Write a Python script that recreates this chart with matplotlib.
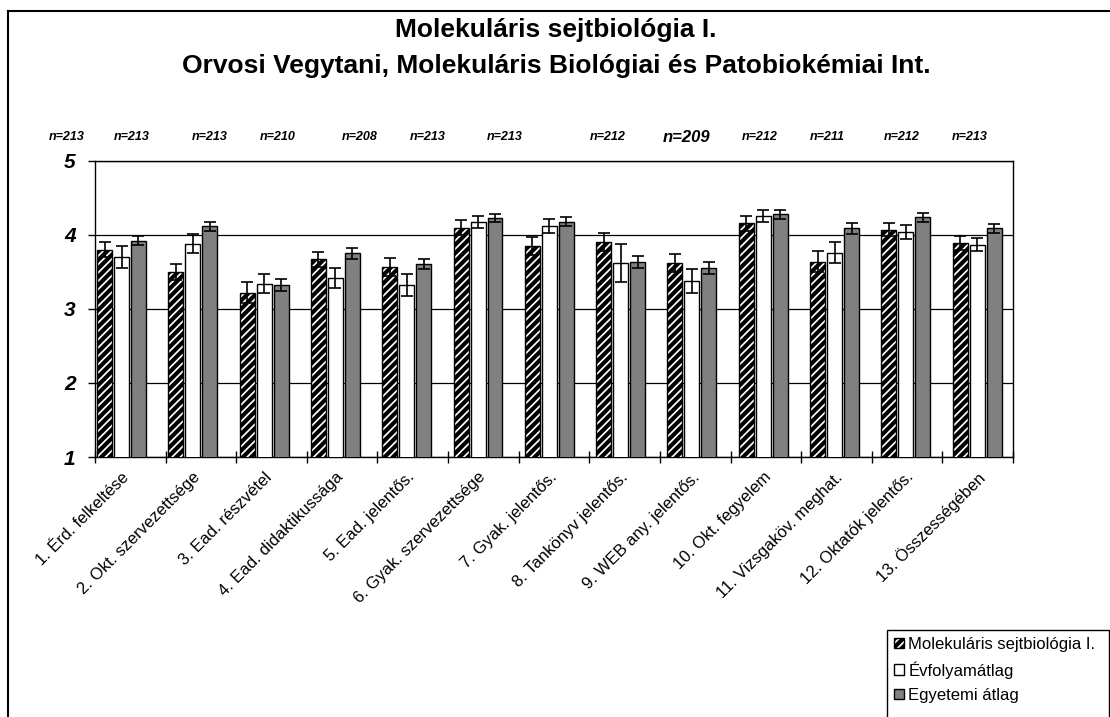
import numpy as np
import matplotlib
matplotlib.use("Agg")
import matplotlib.pyplot as plt
from matplotlib.lines import Line2D
from matplotlib.patches import Patch, Rectangle

plt.rcParams['font.family'] = ['Liberation Sans', 'DejaVu Sans']
plt.rcParams['hatch.linewidth'] = 3.0

# Data
categories = ['1. Érd. felkeltése', '2. Okt. szervezettsége', '3. Ead. részvétel',
              '4. Ead. didaktikussága', '5. Ead. jelentős.', '6. Gyak. szervezettsége',
              '7. Gyak. jelentős.', '8. Tankönyv jelentős.', '9. WEB any. jelentős.',
              '10. Okt. fegyelem', '11. Vizsgaköv. meghat.', '12. Oktatók jelentős.',
              '13. Összességében']
n_values = [213, 213, 213, 210, 208, 213, 213, 212, 209, 212, 211, 212, 213]

mol = [3.80, 3.50, 3.22, 3.67, 3.57, 4.10, 3.85, 3.91, 3.62, 4.16, 3.64, 4.07, 3.89]
mol_err = [0.10, 0.11, 0.14, 0.10, 0.12, 0.10, 0.12, 0.12, 0.12, 0.10, 0.14, 0.09, 0.09]
evf = [3.70, 3.88, 3.34, 3.42, 3.32, 4.18, 4.12, 3.62, 3.38, 4.26, 3.76, 4.04, 3.87]
evf_err = [0.15, 0.13, 0.13, 0.14, 0.15, 0.08, 0.09, 0.26, 0.16, 0.08, 0.14, 0.10, 0.09]
egy = [3.92, 4.12, 3.32, 3.75, 3.61, 4.23, 4.18, 3.64, 3.55, 4.28, 4.09, 4.24, 4.09]
egy_err = [0.06, 0.06, 0.08, 0.07, 0.07, 0.06, 0.06, 0.08, 0.08, 0.06, 0.07, 0.06, 0.06]

series_names = ['Molekuláris sejtbiológia I.', 'Évfolyamátlag', 'Egyetemi átlag']

# layout (pixels) for the n= labels
n_label_x = [67, 132, 210, 278, 360, 428, 505, 608, 687, 760, 827, 902, 970]

W, H = 1110, 717
fig = plt.figure(figsize=(W / 100, H / 100), dpi=100)
ax_l, ax_r, ax_t, ax_b = 95, 1013, 161, 457
ax = fig.add_axes([ax_l / W, 1 - ax_b / H, (ax_r - ax_l) / W, (ax_b - ax_t) / H])

x = np.arange(len(categories))
step = 0.238
bw = 0.21
ek = dict(ecolor='black', elinewidth=1.2, capsize=4, capthick=1.2)
ax.bar(x - step, mol, bw, yerr=mol_err, color='white', edgecolor='black',
       hatch='////', linewidth=1.0, error_kw=ek, zorder=3)
ax.bar(x, evf, bw, yerr=evf_err, color='white', edgecolor='black',
       linewidth=1.0, error_kw=ek, zorder=3)
ax.bar(x + step, egy, bw, yerr=egy_err, color='#808080', edgecolor='black',
       linewidth=1.0, error_kw=ek, zorder=3)

left = -0.372
span = 12.875
ax.set_xlim(left, left + span)
ax.set_ylim(1, 5)

# category boundary ticks
ax.set_xticks(left + np.arange(14) * span / 13)
ax.set_xticklabels([])
ax.tick_params(axis='x', which='major', direction='inout', length=8, width=1)
ax.set_xticks(x, minor=True)
ax.set_xticklabels(categories, minor=True, rotation=45, ha='right',
                   rotation_mode='anchor', fontsize=12)
ax.tick_params(axis='x', which='minor', length=0, pad=9)

ax.set_yticks([1, 2, 3, 4, 5])
ax.set_yticklabels(['1', '2', '3', '4', '5'], fontsize=15, fontweight='bold',
                   fontstyle='italic')
ax.tick_params(axis='y', direction='out', length=5, width=1, pad=9)
ax.yaxis.grid(True, color='black', linewidth=0.9)
ax.set_axisbelow(True)
for s in ax.spines.values():
    s.set_color('black')
    s.set_linewidth(1.0)

# n= labels
for xp, n in zip(n_label_x, n_values):
    fs = 12 if n == 209 else 9
    fig.text(xp / W, 1 - 137 / H, f'n={n}', ha='center', va='center',
             fontsize=fs, fontweight='bold', fontstyle='italic')

# title
fig.text(556 / W, 1 - 30 / H, 'Molekuláris sejtbiológia I.', ha='center',
         va='center', fontsize=19, fontweight='bold')
fig.text(556 / W, 1 - 66 / H,
         'Orvosi Vegytani, Molekuláris Biológiai és Patobiokémiai Int.',
         ha='center', va='center', fontsize=19, fontweight='bold')

# outer chart frame
fig.add_artist(Line2D([8 / W, 1], [1 - 11 / H, 1 - 11 / H], color='black', lw=1.5))
fig.add_artist(Line2D([8 / W, 8 / W], [0, 1 - 11 / H], color='black', lw=1.5))

# legend box runs past the right and bottom edges
fig.add_artist(Rectangle((887 / W, -0.05), 0.2, 0.05 + (H - 630) / H,
                         transform=fig.transFigure, facecolor='white',
                         edgecolor='black', lw=1.0))
handles = [Patch(facecolor='white', edgecolor='black', hatch='////', lw=1.0),
           Patch(facecolor='white', edgecolor='black', lw=1.0),
           Patch(facecolor='#808080', edgecolor='black', lw=1.0)]
leg = fig.legend(handles, series_names, loc='upper left',
                 bbox_to_anchor=(889 / W, 1 - 632 / H), fontsize=12,
                 frameon=False, handlelength=0.6, handleheight=0.6,
                 handletextpad=0.25, labelspacing=0.55, borderpad=0.3,
                 borderaxespad=0)

fig.savefig('out.png', dpi=100)
